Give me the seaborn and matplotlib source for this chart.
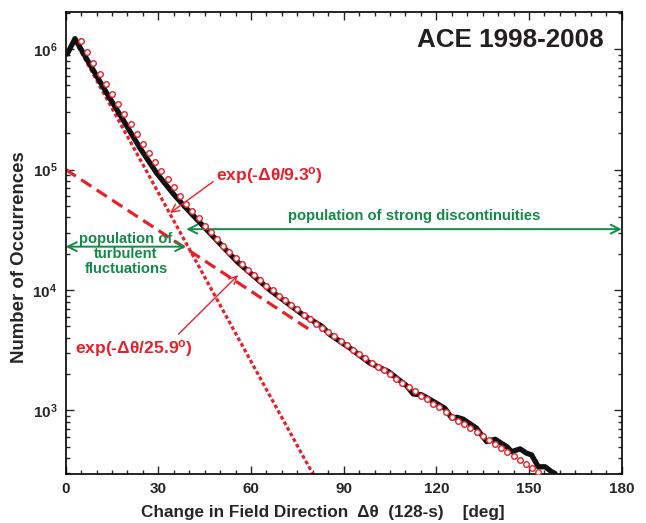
import numpy as np
import pandas as pd
import matplotlib
matplotlib.use('Agg')
import matplotlib.pyplot as plt
import seaborn as sns
from matplotlib.ticker import LogLocator, MultipleLocator, NullFormatter

hist_deg = [0.5, 3, 7.9, 13.3, 18.6, 24.1, 29.5, 34.8, 38.6, 44.5, 55.4, 66.1, 76.9,
            82.9, 85.6, 92, 98.5, 104.4, 110.4, 112.5, 115.2, 119, 122.8, 125, 126.6,
            128.7, 133, 136.3, 139, 142.8, 144.4, 147.1, 149.2, 150.8, 153, 155.2,
            157.3, 158.4]
hist_cnt = [9.1e5, 1.22e6, 7.4e5, 4.3e5, 2.58e5, 1.5e5, 9.3e4, 6.3e4, 4.9e4, 3.4e4,
            1.73e4, 1.0e4, 6.2e3, 5.0e3, 4.26e3, 3.3e3, 2.47e3, 2.11e3, 1.6e3, 1.37e3,
            1.35e3, 1.19e3, 1.04e3, 862, 879, 846, 713, 551, 577, 501, 455, 480, 442,
            428, 341, 341, 310, 300]

# two-exponential fit (red open circles)
fit_deg = [5, 7, 9, 11, 13, 15, 17, 19, 21, 23, 25, 27, 29, 31, 33, 35, 37, 39, 41, 43,
           45, 47, 49, 51, 53, 55, 57, 59, 61, 63, 65, 67, 69, 71, 73, 75, 77, 79, 81,
           83, 85, 87, 89, 91, 93, 95, 97, 99, 101, 103, 105, 107, 109, 111, 113, 115,
           117, 119, 121, 123, 125, 127, 129, 131, 133, 135, 137, 139, 141, 143, 145,
           147, 149, 151, 153]
fit_cnt = [1.16e6, 9.4e5, 7.6e5, 6.25e5, 5.15e5, 4.2e5, 3.47e5, 2.87e5, 2.37e5, 1.98e5,
           1.64e5, 1.37e5, 1.15e5, 9.8e4, 8.3e4, 7.1e4, 6.05e4, 5.2e4, 4.52e4, 3.93e4,
           3.43e4, 3.02e4, 2.66e4, 2.34e4, 2.08e4, 1.85e4, 1.65e4, 1.48e4, 1.34e4, 1.22e4,
           1.09e4, 9.95e3, 9.0e3, 8.3e3, 7.5e3, 6.9e3, 6.2e3, 5.75e3, 5.25e3, 4.86e3,
           4.5e3, 4.18e3, 3.78e3, 3.49e3, 3.19e3, 2.96e3, 2.72e3, 2.50e3, 2.29e3, 2.15e3,
           2.00e3, 1.83e3, 1.70e3, 1.56e3, 1.44e3, 1.32e3, 1.24e3, 1.13e3, 1.06e3, 968,
           890, 824, 774, 717, 661, 612, 571, 529, 492, 454, 421, 390, 359, 333, 308]

# the two exponential components (end points)
fast_deg = [3, 82]
fast_cnt = [1.17e6, 240]
slow_deg = [0, 80]
slow_cnt = [1.0e5, 4.5e3]

ytick_vals = [1e3, 1e4, 1e5, 1e6]
ytick_labels = [r'$10^{3}$', r'$10^{4}$', r'$10^{5}$', r'$10^{6}$']
xtick_vals = [0, 30, 60, 90, 120, 150, 180]

RED = '#e8202a'
GREEN = '#138a48'

sns.set_style('ticks')
plt.rcParams['font.family'] = ['Liberation Sans', 'DejaVu Sans']
plt.rcParams['font.weight'] = 'bold'
plt.rcParams['mathtext.fontset'] = 'custom'
plt.rcParams['mathtext.rm'] = 'Liberation Sans:bold'
plt.rcParams['mathtext.it'] = 'Liberation Sans:bold'
plt.rcParams['mathtext.bf'] = 'Liberation Sans:bold'

fig = plt.figure(figsize=(6.46, 5.23), dpi=100)
ax = fig.add_axes([0.1017, 0.0937, 0.8607, 0.8828])

hist = pd.DataFrame({'deg': hist_deg, 'cnt': hist_cnt})
fit = pd.DataFrame({'deg': fit_deg, 'cnt': fit_cnt})

# components
ax.plot(slow_deg, slow_cnt, color=RED, lw=2.3, dashes=(3.8, 2.0), zorder=2)
ax.plot(fast_deg, fast_cnt, color=RED, lw=2.3, dashes=(1.2, 0.8), zorder=2)

sns.lineplot(data=hist, x='deg', y='cnt', color='#111111', lw=3.8, ax=ax, zorder=3)
sns.scatterplot(data=fit, x='deg', y='cnt', marker='o', s=16, facecolor='white',
                edgecolor=RED, linewidth=1.0, ax=ax, zorder=4)

ax.set_yscale('log')
ax.set_xlim(0, 180)
ax.set_ylim(297, 2.02e6)

ax.set_xticks(xtick_vals)
ax.xaxis.set_minor_locator(MultipleLocator(5))
ax.set_yticks(ytick_vals)
ax.set_yticklabels(ytick_labels)
ax.yaxis.set_minor_locator(LogLocator(base=10, subs=np.arange(2, 10)))
ax.yaxis.set_minor_formatter(NullFormatter())
ax.tick_params(which='both', direction='in', top=True, right=True, width=1.0,
               labelsize=11, pad=6)
ax.tick_params(which='major', length=6)
ax.tick_params(which='minor', length=3)
for s in ax.spines.values():
    s.set_linewidth(1.2)
    s.set_color('black')

ax.set_xlabel('')
ax.set_ylabel('')
fig.text(322.5 / 646, 1 - 513 / 523,
         'Change in Field Direction  \u0394\u03b8  (128-s)    [deg]',
         ha='center', va='center', fontsize=12.3, fontweight='bold')
fig.text(20 / 646, 1 - 257.5 / 523, 'Number of Occurrences', rotation=90,
         ha='center', va='center', fontsize=13.4, fontweight='bold')

ax.text(174.3, 1.19e6, 'ACE 1998-2008', ha='right', va='center', fontsize=18.7,
        fontweight='bold', color='#231f20')

# green arrows and labels
ax.annotate('', xy=(180, 3.2e4), xytext=(39, 3.2e4),
            arrowprops=dict(arrowstyle='<->', color=GREEN, lw=1.4, mutation_scale=16,
                            shrinkA=0, shrinkB=0))
ax.text(112.7, 4.1e4, 'population of strong discontinuities', ha='center', va='center',
        fontsize=10.7, fontweight='bold', color=GREEN)
ax.annotate('', xy=(0, 2.29e4), xytext=(39, 2.29e4),
            arrowprops=dict(arrowstyle='<->', color=GREEN, lw=1.4, mutation_scale=16,
                            shrinkA=0, shrinkB=0))
ax.text(19.5, 1.99e4, 'population of\nturbulent\nfluctuations', ha='center', va='center',
        fontsize=10.6, fontweight='bold', color=GREEN, linespacing=1.05)

# red labels
ax.annotate('exp(-\u0394\u03b8/9.3$^{\\rm o}$)', xy=(33.8, 4.36e4), xytext=(48.8, 9.0e4),
            ha='left', va='center', fontsize=12.6, fontweight='bold', color=RED,
            arrowprops=dict(arrowstyle='->', color=RED, lw=1.0, mutation_scale=14,
                            shrinkA=0, shrinkB=0, relpos=(0, 0.3)))
ax.annotate('exp(-\u0394\u03b8/25.9$^{\\rm o}$)', xy=(55.8, 1.33e4), xytext=(3.0, 3.3e3),
            ha='left', va='center', fontsize=12.6, fontweight='bold', color=RED,
            arrowprops=dict(arrowstyle='->', color=RED, lw=1.0, mutation_scale=14,
                            shrinkA=0, shrinkB=0, relpos=(0.85, 1.0)))

fig.savefig('out.png', dpi=100)
